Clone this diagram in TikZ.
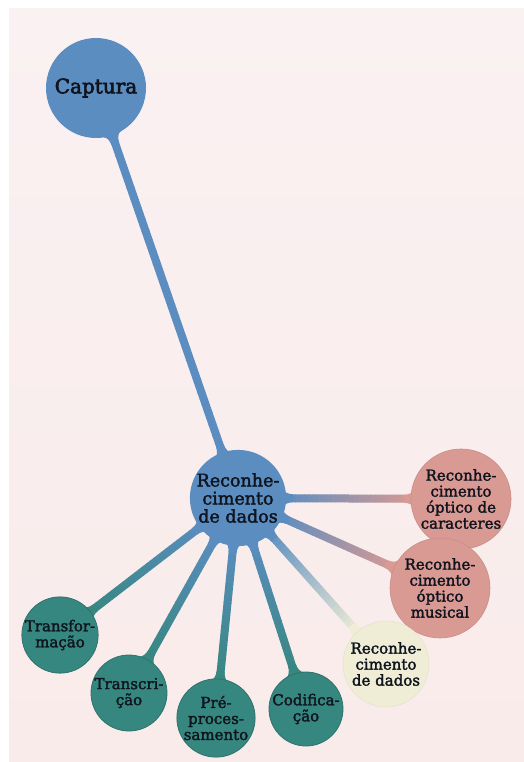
\documentclass[tikz,border=0pt]{standalone}
\usepackage{fontspec}
\setmainfont{DejaVu Serif}
\newfontfamily\bubblefont{DejaVu Serif}[FakeBold=2]
\newfontfamily\capfont{DejaVu Serif}[FakeBold=3]
\usetikzlibrary{calc}

\definecolor{bgtop}{HTML}{FAF1F2}
\definecolor{bgbottom}{HTML}{F9EBEA}
\definecolor{hubblue}{HTML}{5B8DC0}
\definecolor{leafteal}{HTML}{36877F}
\definecolor{leafrose}{HTML}{DA9A94}
\definecolor{leafcream}{HTML}{F0EDD7}
\definecolor{inkdark}{HTML}{0F141E}

\pgfdeclarelayer{backdrop}
\pgfdeclarelayer{limbs}
\pgfsetlayers{backdrop,limbs,main}

% limb geometry: width, flare spread at the circle, flare length
\def\limbw{8}
\def\limbspread{5}
\def\limbreach{9}

% a concave fillet joining a limb to a circle of radius #1,
% origin of the circle at local x=#2, pointing in direction #3
\newcommand\limbflare[4]{%
  \pgfmathsetmacro\fphi{asin(min(0.9,(\limbh+\limbspread)/#1))}%
  \pgfmathsetmacro\fpx{#1*cos(\fphi)}%
  \pgfmathsetmacro\fpy{#1*sin(\fphi)}%
  \pgfmathsetmacro\fca{\fpx+0.6*(\fpy-\limbh)*sin(\fphi)}%
  \pgfmathsetmacro\fcb{\fpy-0.6*(\fpy-\limbh)*cos(\fphi)}%
  \pgfmathsetmacro\fex{#1+\limbreach}%
  \pgfmathsetmacro\fcx{\fex-0.5*\limbreach}%
  \begin{scope}[shift={(#2,0)}, xscale=#3]
    \fill[#4] (0,0) -- (\fpx,\fpy) .. controls (\fca,\fcb) and (\fcx,\limbh) .. (\fex,\limbh)
      -- (\fex,-\limbh) .. controls (\fcx,-\limbh) and (\fca,-\fcb) .. (\fpx,-\fpy) -- cycle;
  \end{scope}}

% a thick connector from node #1 (radius #3) to node #2 (radius #4),
% shaded from colour #5 to colour #6
\newcommand\limb[6]{%
  \pgfpointanchor{#1}{center}\pgfgetlastxy\limbax\limbay
  \pgfpointanchor{#2}{center}\pgfgetlastxy\limbbx\limbby
  \pgfmathsetmacro\limbang{atan2(\limbby-\limbay,\limbbx-\limbax)}%
  \pgfmathsetmacro\limblen{veclen(\limbbx-\limbax,\limbby-\limbay)}%
  \pgfmathsetmacro\limbh{\limbw/2}%
  \begin{scope}[shift={(#1.center)}, rotate=\limbang, x=1pt, y=1pt]
    \foreach \k in {0,...,29}{%
      \pgfmathsetmacro\limbs{#3-2+(\limblen-#3-#4+4)*\k/30}%
      \pgfmathsetmacro\limbe{#3-2+(\limblen-#3-#4+4)*(\k+1)/30+0.5}%
      \pgfmathsetmacro\limbmix{100-100*(\k+0.5)/30}%
      \fill[#5!\limbmix!#6] (\limbs,-\limbh) rectangle (\limbe,\limbh);
    }
    \limbflare{#3}{0}{1}{#5}
    \limbflare{#4}{\limblen}{-1}{#6}
  \end{scope}}

\tikzset{
  bubble/.style={circle, inner sep=0pt, align=center, text=inkdark,
    font=\bubblefont\fontsize{15}{16}\selectfont},
  hub/.style={bubble, fill=hubblue},
  tealleaf/.style={bubble, fill=leafteal, draw=leafteal!85!black, line width=0.8pt},
  roseleaf/.style={bubble, fill=leafrose, draw=leafrose!92!black, line width=0.6pt},
  creamleaf/.style={bubble, fill=leafcream, draw=leafcream!95!black, line width=0.5pt},
}

\begin{document}
\begin{tikzpicture}[x=1pt, y=-1pt]
  \useasboundingbox (0,0) rectangle (524,762);
  \begin{pgfonlayer}{backdrop}
    \fill[white] (0,0) rectangle (524,762);
    \shade[top color=bgtop, bottom color=bgbottom] (9,9) rectangle (524,762);
  \end{pgfonlayer}

  % hub nodes
  \node[hub, minimum size=100pt, font=\capfont\fontsize{20}{22}\selectfont] (cap) at (96,88) {Captura};
  \node[hub, minimum size=92pt, font=\bubblefont\fontsize{17.5}{18}\selectfont] (rec) at (238,498)
    {Reconhe-\\cimento\\de dados};

  % rose and cream leaves
  \node[roseleaf, minimum size=96pt] (ocr) at (461,499)
    {Reconhe-\\cimento\\óptico de\\caracteres};
  \node[roseleaf, minimum size=100pt] (omr) at (440,588)
    {Reconhe-\\cimento\\óptico\\musical};
  \node[creamleaf, minimum size=86pt] (rdd) at (386,664)
    {Reconhe-\\cimento\\de dados};

  % teal leaves
  \node[tealleaf, minimum size=74pt] (cod) at (306,709) {Codifica-\\ção};
  \node[tealleaf, minimum size=76pt] (pre) at (216,718) {Pré-\\proces-\\samento};
  \node[tealleaf, minimum size=76pt] (tsc) at (129,693) {Transcri-\\ção};
  \node[tealleaf, minimum size=72pt] (tsf) at (60,635) {Transfor-\\mação};

  \begin{pgfonlayer}{limbs}
    \limb{cap}{rec}{50}{46}{hubblue}{hubblue}
    \limb{rec}{ocr}{46}{48}{hubblue}{leafrose}
    \limb{rec}{omr}{46}{50}{hubblue}{leafrose}
    \limb{rec}{rdd}{46}{43}{hubblue}{leafcream}
    \limb{rec}{cod}{46}{37}{hubblue}{leafteal}
    \limb{rec}{pre}{46}{38}{hubblue}{leafteal}
    \limb{rec}{tsc}{46}{38}{hubblue}{leafteal}
    \limb{rec}{tsf}{46}{36}{hubblue}{leafteal}
  \end{pgfonlayer}
\end{tikzpicture}
\end{document}
